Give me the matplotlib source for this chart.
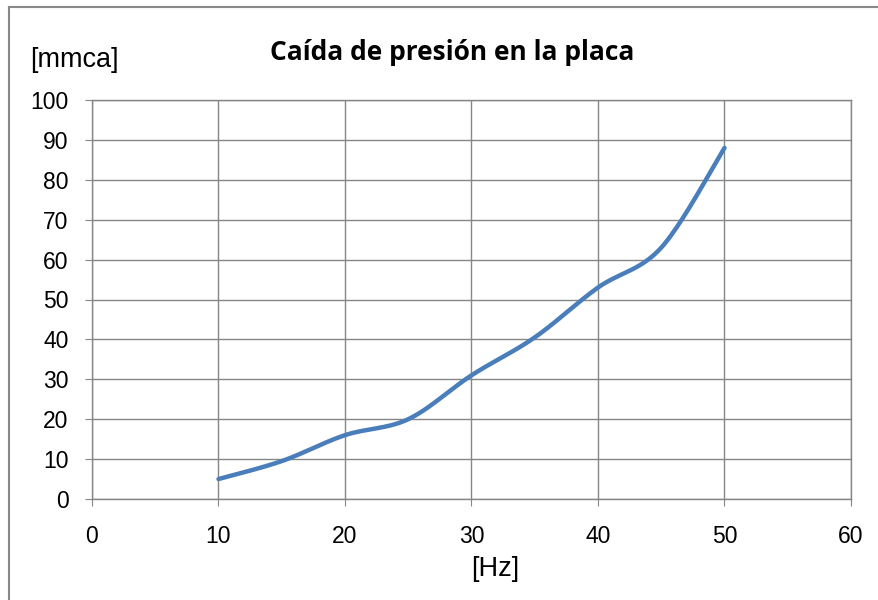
import numpy as np
import matplotlib
matplotlib.use("Agg")
import matplotlib.pyplot as plt
from matplotlib.lines import Line2D

freq_hz = [10, 15, 20, 25, 30, 35, 40, 45, 50]
pressure_mmca = [5, 9.5, 16, 20, 31, 40.5, 53, 63, 88]
x_ticks = [0, 10, 20, 30, 40, 50, 60]
y_ticks = [0, 10, 20, 30, 40, 50, 60, 70, 80, 90, 100]
title = "Caída de presión en la placa"
x_label = "[Hz]"
y_label = "[mmca]"

plt.rcParams['font.family'] = ['Liberation Sans', 'DejaVu Sans']


def smooth(xs, ys, n=40):
    # Excel-like smoothed line: cubic Bezier segments, Catmull-Rom control points
    xs = np.asarray(xs, float)
    ys = np.asarray(ys, float)
    px = np.concatenate([[xs[0]], xs, [xs[-1]]])
    py = np.concatenate([[ys[0]], ys, [ys[-1]]])
    outx, outy = [], []
    t = np.linspace(0, 1, n)
    for i in range(1, len(px) - 2):
        p0 = np.array([px[i], py[i]])
        p3 = np.array([px[i + 1], py[i + 1]])
        c1 = p0 + (np.array([px[i + 1], py[i + 1]]) - np.array([px[i - 1], py[i - 1]])) / 6
        c2 = p3 - (np.array([px[i + 2], py[i + 2]]) - np.array([px[i], py[i]])) / 6
        b = ((1 - t) ** 3)[:, None] * p0 + (3 * (1 - t) ** 2 * t)[:, None] * c1 \
            + (3 * (1 - t) * t ** 2)[:, None] * c2 + (t ** 3)[:, None] * p3
        outx.extend(b[:, 0])
        outy.extend(b[:, 1])
    return np.array(outx), np.array(outy)


fig = plt.figure(figsize=(8.79, 6.0), dpi=100)
ax = fig.add_axes([92 / 879, 101 / 600, (851 - 92) / 879, (499 - 100) / 600])

grid_col = "#868686"
ax.set_xlim(0, 60)
ax.set_ylim(0, 100)
ax.set_xticks(x_ticks)
ax.set_yticks(y_ticks)
ax.grid(True, color=grid_col, linewidth=1.0)
ax.set_axisbelow(True)
for s in ax.spines.values():
    s.set_color(grid_col)
    s.set_linewidth(1.0)
ax.tick_params(axis='both', direction='out', length=5, color=grid_col,
               labelsize=16.5, labelcolor='black')
ax.tick_params(axis='x', pad=14)
ax.tick_params(axis='y', pad=12)

sx, sy = smooth(freq_hz, pressure_mmca)
ax.plot(sx, sy, color="#4A7EBB", linewidth=3.2, solid_capstyle='round', clip_on=False)

fig.text(495 / 879, 1 - 569 / 600, x_label, fontsize=19.5, ha='center', va='center')
fig.text(30 / 879, 1 - 60 / 600, y_label, fontsize=19.5, ha='left', va='center')
fig.text(452 / 879, 1 - 53 / 600, title, fontsize=19, fontweight='bold',
         ha='center', va='center', family=['Open Sans', 'DejaVu Sans'])

# outer chart border (top and left visible)
fig.add_artist(Line2D([9 / 879, 9 / 879], [0, 1 - 7 / 600], transform=fig.transFigure,
                      color="#888888", linewidth=1.5))
fig.add_artist(Line2D([9 / 879, 1], [1 - 7 / 600, 1 - 7 / 600], transform=fig.transFigure,
                      color="#888888", linewidth=1.5))

fig.savefig("out.png", dpi=100)
